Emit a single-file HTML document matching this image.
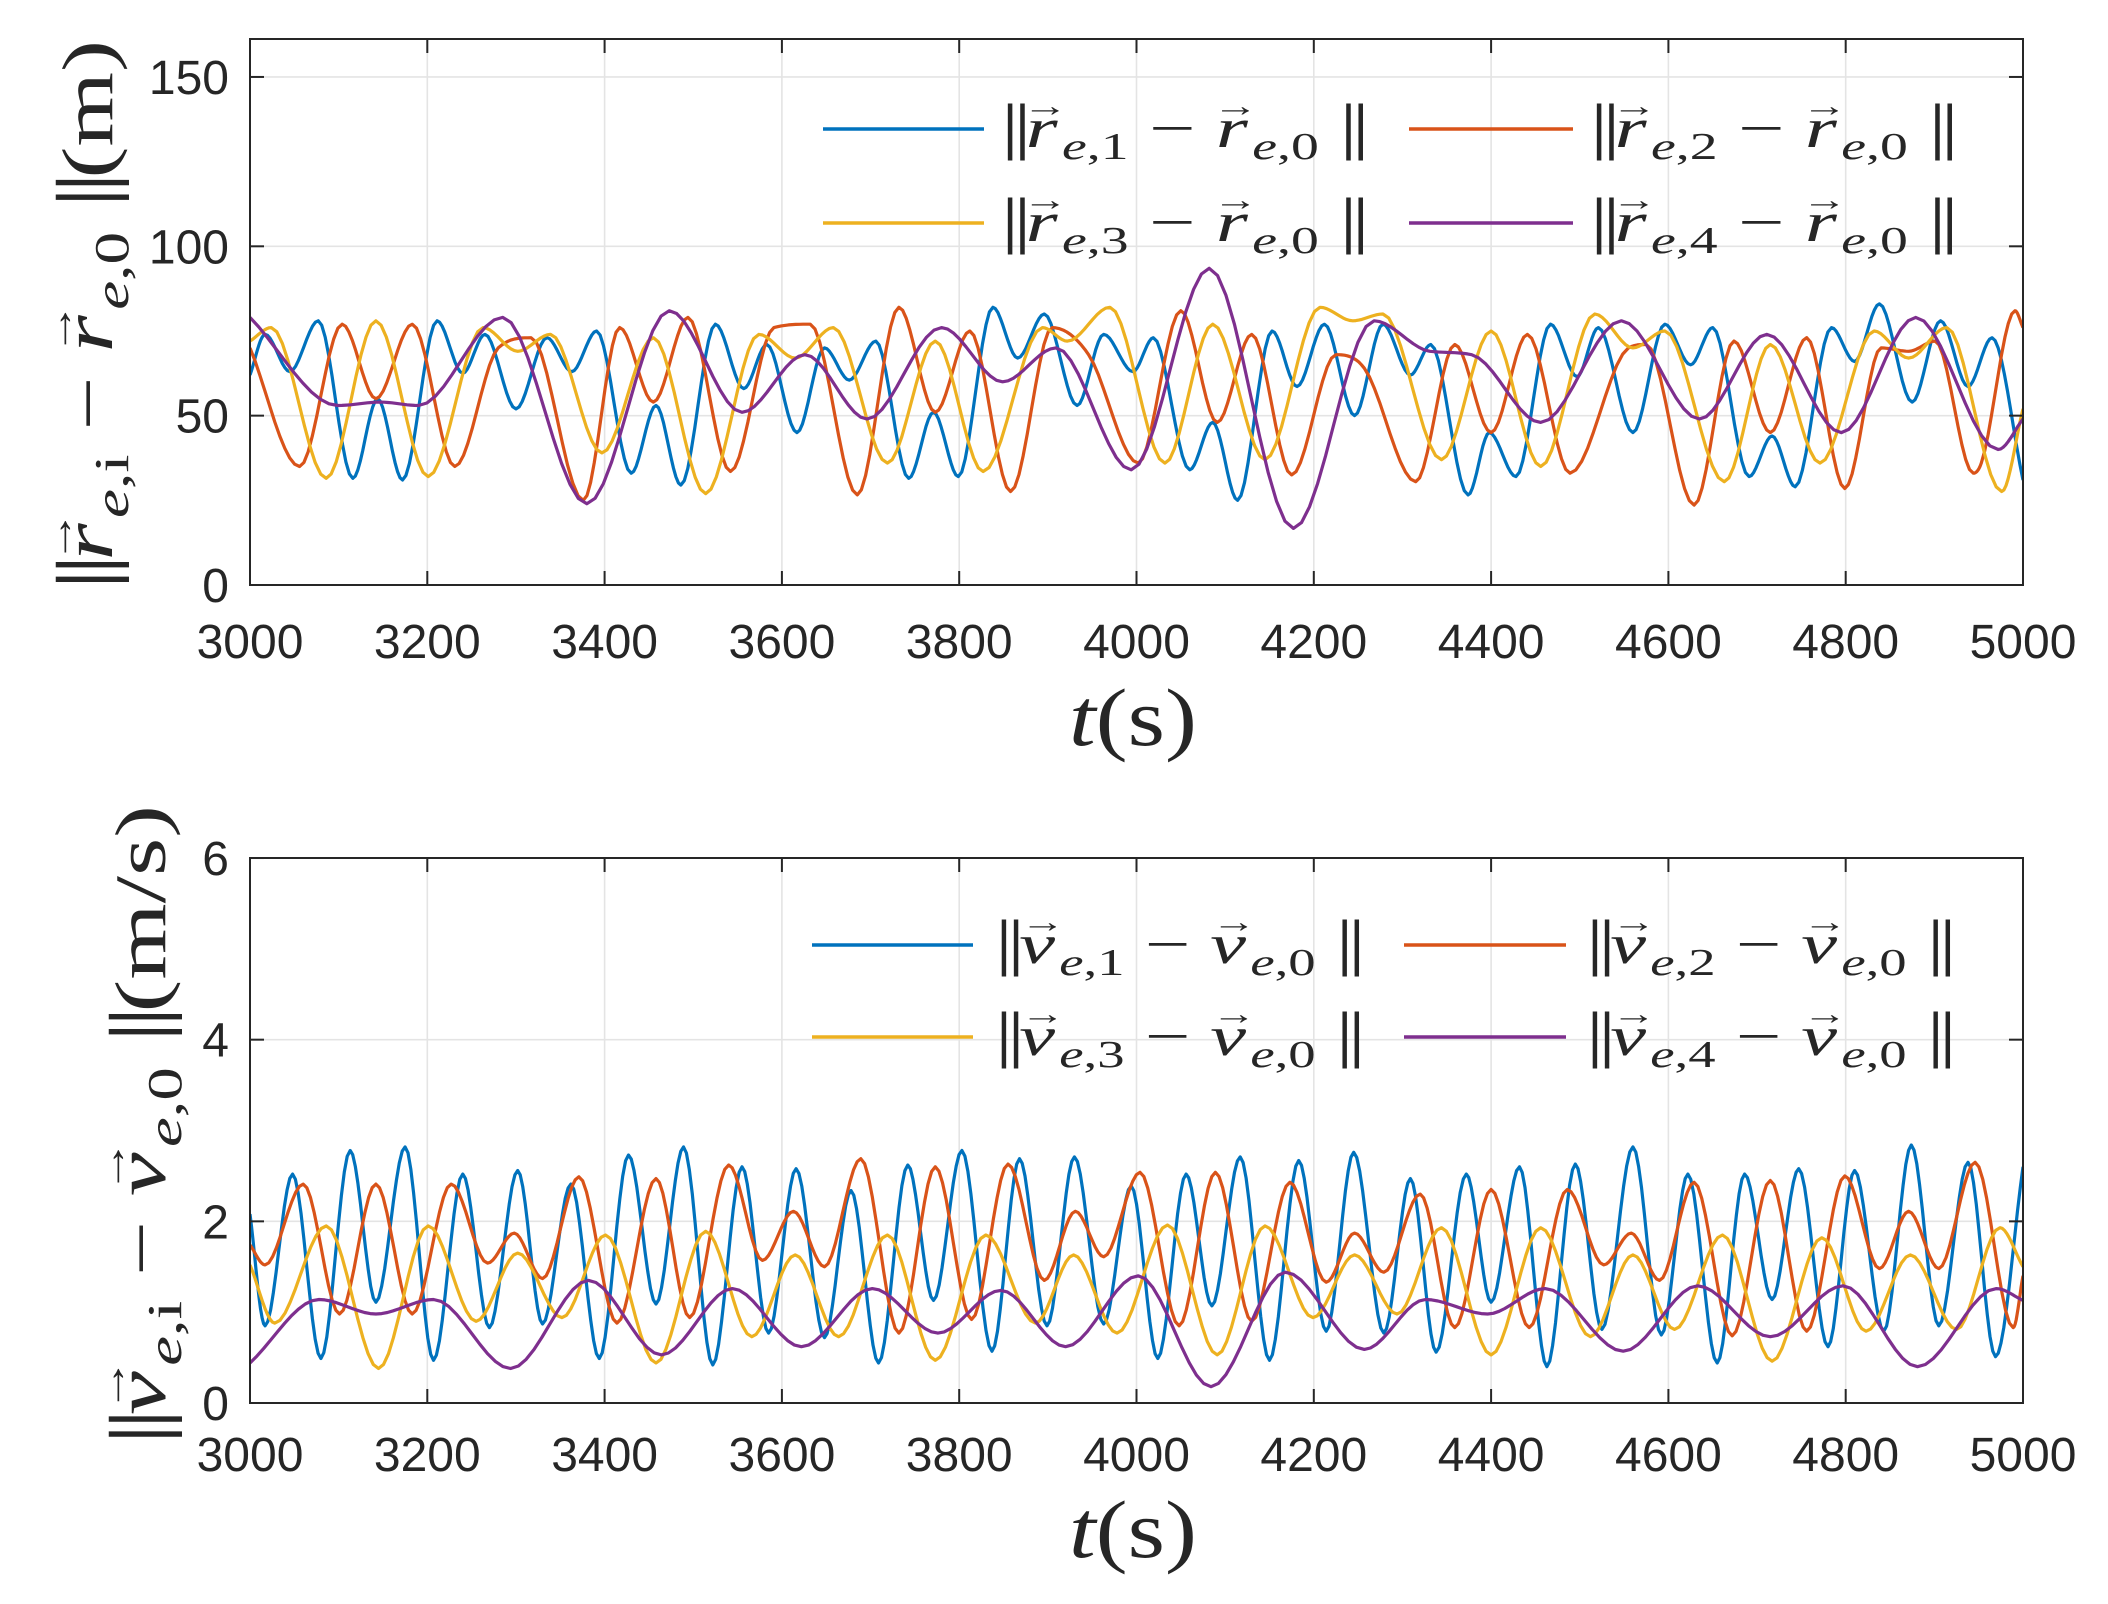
<!DOCTYPE html>
<html><head><meta charset="utf-8"><title>Relative position and velocity norms</title>
<style>
html,body{margin:0;padding:0;background:#fff;}
svg{display:block;}
.tick{font-family:"Liberation Sans",Arial,sans-serif;font-size:48px;fill:#262626;}
.math{font-family:"Liberation Serif","DejaVu Serif",serif;fill:#262626;}
</style></head>
<body>
<svg id="fig" width="2108" height="1604" viewBox="0 0 2108 1604" xmlns="http://www.w3.org/2000/svg">
<rect x="0" y="0" width="2108" height="1604" fill="#fff"/>
<g id="top"></g>
<g id="bot"></g>
</svg>
<script>
// ---------- data: top plot (position, m) ----------
const xTicks = [3000,3200,3400,3600,3800,4000,4200,4400,4600,4800,5000];
const yTicksTop = [0,50,100,150];
const yTicksBot = [0,2,4,6];

const rBlueT = [3000,3017,3045,3077,3116,3144,3172,3211,3240,3265,3300,3335,3363,3391,3430,3458,3486,3525,3557,3583,3617,3648,3676,3706,3743,3771,3799,3838,3866,3896,3933,3963,3996,4019,4060,4086,4114,4153,4181,4212,4246,4278,4309,4332,4374,4398,4428,4467,4497,4521,4560,4596,4625,4650,4691,4717,4743,4784,4810,4838,4875,4907,4938,4965,5000];
const rBlueV = [62,74,63,78,31.5,55,31,78,62.5,74,52,73,63,75,33,53,29.5,77,58,71,45,70,60.5,72,31.5,51,32,82,67,80,53,74,63,73,34,48,25,75,58.6,77,50,77,62,71,26.6,45,32,77,61.5,76,45,77,65,76,32,44,29,76,66,83,54,78,58.6,73,31];
const rOrangeT = [3000,3056,3104,3142,3183,3231,3280,3317,3376,3417,3455,3494,3542,3591,3632,3685,3732,3773,3812,3858,3905,3946,4002,4050,4091,4130,4175,4225,4257,4315,4359,4400,4441,4489,4555,4575,4629,4674,4715,4756,4799,4840,4871,4901,4944,4953,4991,5000];
const rOrangeV = [70,35,77,55,77,35,70,73,25,76,54,79,33.5,76,77,26.6,82,51,75,27.6,76,68,36,81,48,74,32.5,68,64,30.5,71,45,74,33,70,71,23.6,72,45,73,28.5,70,69,72,33,36,81,76];
const rYellowT = [3000,3024,3086,3142,3201,3263,3302,3339,3397,3455,3514,3574,3615,3658,3719,3773,3827,3894,3922,3970,4032,4086,4145,4207,4244,4278,4344,4400,4456,4517,4560,4596,4663,4715,4771,4832,4871,4914,4976,5000];
const rYellowV = [72,76,31.5,78,32,76,69,74,39,73,27,74,67,76,36,72,33.5,76,72,82,36,77,37,82,78,80,37,75,35,80,70,75,30.5,71,36,75,67,76,27.6,52];
const rPurpleT = [3000,3099,3147,3190,3285,3380,3473,3555,3626,3696,3780,3849,3909,3994,4082,4177,4268,4331,4378,4456,4547,4635,4711,4795,4879,4972,5000];
const rPurpleV = [79,53,54,53,79,24,81,51,68,49,76,60,70,34,93.5,16.7,78,69,68,48,78,49,74,45,79,40,49];

// ---------- data: bottom plot (velocity, m/s) ----------
const vBlueT = [3000,3017,3048,3080,3113,3142,3175,3207,3240,3270,3302,3330,3362,3394,3427,3458,3489,3522,3555,3585,3616,3648,3678,3709,3742,3771,3803,3837,3868,3899,3930,3963,3994,4024,4056,4085,4117,4150,4183,4214,4245,4279,4309,4338,4372,4400,4432,4463,4495,4525,4560,4592,4622,4655,4686,4717,4747,4780,4810,4843,4874,4905,4938,4969,5000];
const vBlueV = [2.08,0.85,2.52,0.49,2.78,1.11,2.82,0.47,2.52,0.83,2.56,0.87,2.41,0.49,2.73,1.09,2.82,0.42,2.60,0.77,2.58,0.72,2.34,0.44,2.62,1.13,2.78,0.57,2.69,0.85,2.71,0.87,2.39,0.49,2.52,1.07,2.71,0.47,2.67,0.79,2.76,0.77,2.47,0.56,2.52,1.11,2.60,0.40,2.63,0.81,2.82,0.75,2.52,0.44,2.52,1.14,2.58,0.62,2.56,0.79,2.84,0.85,2.65,0.51,2.60];
const vOrangeT = [3000,3017,3060,3101,3142,3183,3227,3268,3298,3330,3371,3414,3458,3496,3540,3578,3613,3648,3689,3732,3773,3814,3855,3896,3931,3963,4004,4048,4089,4130,4173,4214,4246,4279,4320,4359,4400,4443,4486,4527,4558,4590,4629,4672,4715,4756,4799,4838,4871,4905,4946,4989,5000];
const vOrangeV = [1.74,1.52,2.41,0.98,2.41,0.98,2.41,1.54,1.87,1.37,2.49,0.88,2.47,0.94,2.62,1.57,2.11,1.50,2.69,0.77,2.60,0.92,2.63,1.35,2.11,1.61,2.54,0.85,2.54,0.90,2.43,1.33,1.87,1.44,2.30,0.83,2.35,0.83,2.35,1.52,1.87,1.35,2.43,0.74,2.45,0.79,2.50,1.48,2.11,1.48,2.65,0.83,1.40];
const vYellowT = [3000,3028,3086,3145,3201,3255,3302,3352,3401,3458,3514,3566,3615,3664,3719,3773,3830,3886,3929,3978,4035,4091,4145,4199,4246,4294,4344,4400,4456,4512,4560,4607,4661,4717,4773,4823,4873,4925,4974,5000];
const vYellowV = [1.52,0.88,1.95,0.38,1.95,0.90,1.65,0.94,1.85,0.44,1.89,0.73,1.63,0.73,1.85,0.47,1.85,0.88,1.63,0.77,1.96,0.53,1.95,0.94,1.63,0.98,1.93,0.53,1.93,0.73,1.63,0.81,1.85,0.46,1.82,0.79,1.63,0.81,1.93,1.50];
const vPurpleT = [3000,3078,3142,3207,3294,3382,3464,3544,3622,3702,3776,3847,3920,4002,4084,4168,4257,4326,4396,4461,4549,4633,4715,4797,4881,4970,5000];
const vPurpleV = [0.44,1.14,0.98,1.14,0.38,1.35,0.53,1.26,0.62,1.26,0.77,1.24,0.62,1.40,0.18,1.44,0.59,1.14,0.98,1.26,0.57,1.29,0.73,1.29,0.40,1.26,1.13];

const seriesColors = ['#0072BD','#D95319','#EDB120','#7E2F8E'];

const NS = 'http://www.w3.org/2000/svg';
function mk(tag, attrs, parent){
  const e = document.createElementNS(NS, tag);
  for (const k in attrs) e.setAttribute(k, attrs[k]);
  if (parent) parent.appendChild(e);
  return e;
}

// monotone cubic sampler
function smoothPath(T, V, sx, sy){
  const n = Math.min(T.length, V.length);
  const d = [], m = new Array(n).fill(0);
  for (let i=0;i<n-1;i++) d.push((V[i+1]-V[i])/(T[i+1]-T[i]));
  for (let i=1;i<n-1;i++){ m[i] = (d[i-1]*d[i] <= 0) ? 0 : (d[i-1]+d[i])/2; }
  m[0]=d[0]; m[n-1]=d[n-2];
  for (let i=0;i<n-1;i++){
    if (d[i]===0){m[i]=0;m[i+1]=0;continue;}
    const a=m[i]/d[i], b=m[i+1]/d[i], s=a*a+b*b;
    if (s>9){const t=3/Math.sqrt(s); m[i]=t*a*d[i]; m[i+1]=t*b*d[i];}
  }
  let p = 'M'+sx(T[0]).toFixed(1)+','+sy(V[0]).toFixed(1);
  for (let i=0;i<n-1;i++){
    const h=T[i+1]-T[i], steps=10;
    for (let k=1;k<=steps;k++){
      const s=k/steps, s2=s*s, s3=s2*s;
      const y=(2*s3-3*s2+1)*V[i]+(s3-2*s2+s)*h*m[i]+(-2*s3+3*s2)*V[i+1]+(s3-s2)*h*m[i+1];
      p+=' L'+sx(T[i]+s*h).toFixed(1)+','+sy(y).toFixed(1);
    }
  }
  return p;
}

// builds "||sym(arrow)_{e,idx} − sym(arrow)_{e,0}||" with given size f
function vecTerm(sym, sub, f){
  const af = Math.round(f*0.55), sf = Math.round(f*0.68);
  const up = Math.round(f*0.55), dn = Math.round(f*0.22);
  const back = -Math.round(f*0.42);
  return '<tspan font-style="italic">'+sym+'</tspan>'+
    '<tspan font-size="'+af+'" dx="'+back+'" dy="'+(-up)+'">→</tspan>'+
    '<tspan font-style="italic" font-size="'+sf+'" dx="'+Math.round(-f*0.08)+'" dy="'+(up+dn)+'">'+sub[0]+'</tspan>'+
    '<tspan font-size="'+sf+'">'+sub[1]+'</tspan>'+
    '<tspan dy="'+(-dn)+'"> </tspan>';
}
function normStr(sym, idx, f){
  return '<tspan font-size="'+Math.round(f*1.1)+'" letter-spacing="-4">||</tspan>'+
    vecTerm(sym, ['e', ','+idx], f)+'<tspan>− </tspan>'+
    vecTerm(sym, ['e', ',0'], f)+
    '<tspan font-size="'+Math.round(f*1.1)+'" letter-spacing="-4">||</tspan>';
}

function legendText(g, x, y, sym, idx, w){
  const t = mk('text',{x:x,y:y,'class':'math','font-size':'56',textLength:w,lengthAdjust:'spacingAndGlyphs'},g);
  t.innerHTML = normStr(sym, idx, 56);
  return t;
}

function drawAxes(g, cfg){
  const L=250, R=2023, T=cfg.top, B=cfg.bottom;
  const sx = t => L + (t-3000)/2000*(R-L);
  const sy = v => cfg.zeroY - v*cfg.pxPerUnit;
  xTicks.forEach(t=>{
    const gl = mk('line',{x1:sx(t),x2:sx(t),y1:T,y2:B,stroke:'#e4e4e4','stroke-width':1.6},g);
    
    
  });
  cfg.yTicks.forEach(v=>{
    const gl = mk('line',{x1:L,x2:R,y1:sy(v),y2:sy(v),stroke:'#e4e4e4','stroke-width':1.6},g);
    
    
  });
  const clipId = cfg.id+'clip';
  const cp = mk('clipPath',{id:clipId},g);
  mk('rect',{x:L,y:T,width:R-L,height:B-T},cp);
  const sg = mk('g',{'clip-path':'url(#'+clipId+')'},g);
  
  
  cfg.series.forEach((s,i)=>{
    const p = mk('path',{d:smoothPath(s[0],s[1],sx,sy),fill:'none',stroke:seriesColors[i],'stroke-width':3.2,'stroke-linejoin':'round'},sg);
    
    
  });
  const box = mk('rect',{x:L,y:T,width:R-L,height:B-T,fill:'none',stroke:'#262626','stroke-width':2},g);
  
  
  xTicks.forEach(t=>{
    mk('line',{x1:sx(t),x2:sx(t),y1:B,y2:B-14,stroke:'#262626','stroke-width':2},g);
    mk('line',{x1:sx(t),x2:sx(t),y1:T,y2:T+14,stroke:'#262626','stroke-width':2},g);
    const lb = mk('text',{x:sx(t),y:cfg.xLabelY,'class':'tick','text-anchor':'middle'},g);
    lb.textContent = t;
    
    
  });
  cfg.yTicks.forEach(v=>{
    mk('line',{x1:L,x2:L+14,y1:sy(v),y2:sy(v),stroke:'#262626','stroke-width':2},g);
    mk('line',{x1:R,x2:R-14,y1:sy(v),y2:sy(v),stroke:'#262626','stroke-width':2},g);
    const lb = mk('text',{x:229,y:sy(v)+17,'class':'tick','text-anchor':'end'},g);
    lb.textContent = v;
    
    
  });
  const xl = mk('text',{x:1133,y:cfg.xTitleY,'class':'math','font-size':'82','text-anchor':'middle',textLength:128,lengthAdjust:'spacingAndGlyphs'},g);
  xl.innerHTML = '<tspan font-style="italic">t</tspan>(s)';
  
  
  const yl = mk('text',{x:0,y:0,'class':'math','font-size':'72','text-anchor':'middle',textLength:cfg.yTitleLen,lengthAdjust:'spacingAndGlyphs',transform:'translate('+cfg.yTitleX+','+cfg.yTitleY+') rotate(-90)'},g);
  yl.innerHTML = '<tspan font-size="80" letter-spacing="-5">||</tspan>'+vecTerm(cfg.sym,['e',',i'],72)+'<tspan>− </tspan>'+vecTerm(cfg.sym,['e',',0'],72)+'<tspan font-size="80" letter-spacing="-5">||</tspan><tspan>('+cfg.unit+')</tspan>';
  
  
  const lg = mk('g',{},g);
  
  
  const lp = cfg.legend;
  [[0,0],[1,0],[0,1],[1,1]].forEach((pos,k)=>{
    const idx=k+1;
    const col=pos[0], row=pos[1];
    const ly = lp.rows[row];
    const e = mk('g',{},lg);
    
    
    mk('line',{x1:lp.lineX[col][0],x2:lp.lineX[col][1],y1:ly,y2:ly,stroke:seriesColors[idx-1],'stroke-width':3.5},e);
    legendText(e, lp.textX[col], ly+18, cfg.sym, idx, lp.textW);
  });
}

drawAxes(document.getElementById('top'),{
  id:'position', top:39, bottom:585, zeroY:585, pxPerUnit:3.387, yTicks:yTicksTop,
  xLabelY:658, xTitleY:745, yTitleX:112, yTitleY:315, yTitleLen:550, sym:'r', unit:'m',
  series:[[rBlueT,rBlueV],[rOrangeT,rOrangeV],[rYellowT,rYellowV],[rPurpleT,rPurpleV]],
  legend:{rows:[129,223], lineX:[[823,984],[1409,1573]], textX:[1001,1590], textW:363}
});
drawAxes(document.getElementById('bot'),{
  id:'velocity', top:858, bottom:1403, zeroY:1403, pxPerUnit:90.83, yTicks:yTicksBot,
  xLabelY:1471, xTitleY:1557, yTitleX:165, yTitleY:1125, yTitleLen:640, sym:'v', unit:'m/s',
  series:[[vBlueT,vBlueV],[vOrangeT,vOrangeV],[vYellowT,vYellowV],[vPurpleT,vPurpleV]],
  legend:{rows:[945,1037], lineX:[[812,973],[1404,1566]], textX:[995,1586], textW:365}
});
</script>
</body></html>
